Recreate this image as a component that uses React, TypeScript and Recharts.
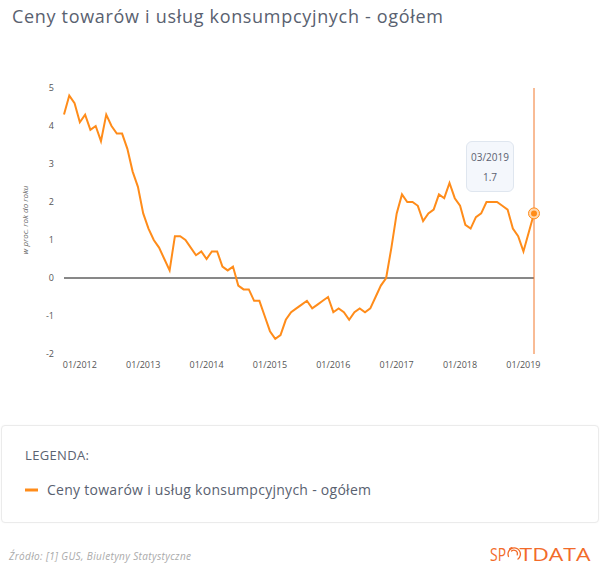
import React from 'react';
import { LineChart, Line, XAxis, YAxis, ReferenceLine, ReferenceDot, Tooltip } from 'recharts';

// Categories: monthly, from 10/2011 to 03/2019
const startYear = 2011;
const startMonth = 10;

// Series values (CPI, % y/y) per year
const values2011 = [4.3, 4.8, 4.6]; // Oct-Dec
const values2012 = [4.1, 4.3, 3.9, 4.0, 3.6, 4.3, 4.0, 3.8, 3.8, 3.4, 2.8, 2.4];
const values2013 = [1.7, 1.3, 1.0, 0.8, 0.5, 0.2, 1.1, 1.1, 1.0, 0.8, 0.6, 0.7];
const values2014 = [0.5, 0.7, 0.7, 0.3, 0.2, 0.3, -0.2, -0.3, -0.3, -0.6, -0.6, -1.0];
const values2015 = [-1.4, -1.6, -1.5, -1.1, -0.9, -0.8, -0.7, -0.6, -0.8, -0.7, -0.6, -0.5];
const values2016 = [-0.9, -0.8, -0.9, -1.1, -0.9, -0.8, -0.9, -0.8, -0.5, -0.2, 0.0, 0.8];
const values2017 = [1.7, 2.2, 2.0, 2.0, 1.9, 1.5, 1.7, 1.8, 2.2, 2.1, 2.5, 2.1];
const values2018 = [1.9, 1.4, 1.3, 1.6, 1.7, 2.0, 2.0, 2.0, 1.9, 1.8, 1.3, 1.1];
const values2019 = [0.7, 1.2, 1.7]; // Jan-Mar

const xTickLabels = ['01/2012', '01/2013', '01/2014', '01/2015', '01/2016', '01/2017', '01/2018', '01/2019'];
const yTickValues = [-2, -1, 0, 1, 2, 3, 4, 5];

const seriesName = 'Ceny towarów i usług konsumpcyjnych - ogółem';
const titleText = 'Ceny towarów i usług konsumpcyjnych - ogółem';
const yAxisLabel = 'w proc. rok do roku';
const sourceText = 'Źródło: [1] GUS, Biuletyny Statystyczne';

const allValues = [
  ...values2011, ...values2012, ...values2013, ...values2014,
  ...values2015, ...values2016, ...values2017, ...values2018, ...values2019,
];

const data = allValues.map((v, i) => {
  const m0 = startMonth - 1 + i;
  const y = startYear + Math.floor(m0 / 12);
  const m = (m0 % 12) + 1;
  const label = `${m < 10 ? '0' + m : m}/${y}`;
  return { label, value: v };
});

const last = data[data.length - 1];

const LINE_COLOR = '#ff8c1a';
const CURSOR_COLOR = '#f2792c';
const LOGO_COLOR = '#f26b2a';
const FONT = '"Open Sans", "Noto Sans", sans-serif';

const TooltipBox = (props: any) => {
  const { payload } = props;
  if (!payload || !payload.length) return null;
  const p = payload[0].payload;
  return (
    <div
      style={{
        width: 46,
        height: 49,
        background: '#f4f7fc',
        border: '1px solid #dfe6ef',
        borderRadius: 6,
        boxSizing: 'content-box',
        fontFamily: FONT,
        fontSize: 10,
        color: '#5b6170',
        textAlign: 'center',
      }}
    >
      <div style={{ lineHeight: '20px', paddingTop: 5 }}>{p.label}</div>
      <div style={{ lineHeight: '20px' }}>{p.value.toFixed(1)}</div>
    </div>
  );
};

const ActiveDotShape = (props: any) => {
  const { cx, cy } = props;
  return (
    <g>
      <circle cx={cx} cy={cy} r={5.5} fill="#ffd8b0" stroke={LINE_COLOR} strokeWidth={1} />
      <circle cx={cx} cy={cy} r={3} fill={LINE_COLOR} />
    </g>
  );
};

export default function App() {
  return (
    <div
      style={{
        position: 'absolute',
        left: 0,
        top: 0,
        width: 600,
        height: 583,
        background: '#ffffff',
        overflow: 'hidden',
      }}
    >
      {/* legend box */}
      <div
        style={{
          position: 'absolute',
          left: 1,
          top: 425,
          width: 596,
          height: 96,
          border: '1px solid #ebebeb',
          borderRadius: 4,
          boxShadow: '0 0 2px rgba(0,0,0,0.04)',
          background: '#fff',
        }}
      />
      <div style={{ position: 'absolute', left: 0, top: 0 }}>
        <LineChart
          width={600}
          height={380}
          data={data}
          margin={{ top: 88, right: 66, left: 0, bottom: 0 }}
        >
          <XAxis
            dataKey="label"
            ticks={xTickLabels}
            interval={0}
            axisLine={false}
            tickLine={false}
            height={26}
            tick={{ fontSize: 9, fill: '#555', fontFamily: FONT }}
          />
          <YAxis
            domain={[-2, 5]}
            ticks={yTickValues}
            width={64}
            axisLine={false}
            tickLine={false}
            tickMargin={4}
            tick={{ fontSize: 9, fill: '#555', fontFamily: FONT }}
          />
          <ReferenceLine y={0} stroke="#111" strokeWidth={1} />
          <ReferenceLine x={last.label} stroke={CURSOR_COLOR} strokeWidth={1} />
          <Line
            type="linear"
            dataKey="value"
            name={seriesName}
            stroke={LINE_COLOR}
            strokeWidth={2}
            dot={false}
            activeDot={false}
            isAnimationActive={false}
          />
          <ReferenceDot x={last.label} y={last.value} r={5} shape={ActiveDotShape} />
          <Tooltip
            active
            defaultIndex={data.length - 1}
            cursor={false}
            position={{ x: 466, y: 141 }}
            content={<TooltipBox />}
            isAnimationActive={false}
            wrapperStyle={{ outline: 'none' }}
          />
        </LineChart>
      </div>
      <svg
        width={600}
        height={583}
        style={{ position: 'absolute', left: 0, top: 0, pointerEvents: 'none' }}
      >
        <text x={12} y={23} fontFamily={FONT} fontSize={18} fill="#596170" textLength={431} lengthAdjust="spacing">
          {titleText}
        </text>
        <text
          x={0}
          y={0}
          transform="translate(28,220) rotate(-90)"
          textAnchor="middle"
          fontFamily={FONT}
          fontSize={8}
          fontStyle="italic"
          fill="#666"
        >
          {yAxisLabel}
        </text>
        <text x={25} y={460} fontFamily={FONT} fontSize={13} fill="#5b6372" textLength={64} lengthAdjust="spacing">
          LEGENDA:
        </text>
        <line x1={25} y1={490} x2={38} y2={490} stroke={LINE_COLOR} strokeWidth={3} />
        <text x={47} y={494.5} fontFamily={FONT} fontSize={14} fill="#596170" textLength={324} lengthAdjust="spacing">
          {seriesName}
        </text>
        <text x={9} y={560} fontFamily={FONT} fontSize={10} fontStyle="italic" fill="#aaaaaa" textLength={182} lengthAdjust="spacing">
          {sourceText}
        </text>
        {/* logo */}
        <g fill={LOGO_COLOR} fontFamily={FONT} fontSize={18}>
          <text x={490} y={560.5} textLength={16} lengthAdjust="spacingAndGlyphs">SP</text>
          <text x={519.5} y={560.5} textLength={71} lengthAdjust="spacingAndGlyphs">TDATA</text>
        </g>
        <g fill="none" stroke={LOGO_COLOR} strokeLinecap="round">
          <path d="M 508.5 556.5 A 6.2 6.2 0 1 1 518 559" strokeWidth={1.3} />
          <path d="M 511.5 551 A 3.6 3.6 0 0 1 517.2 555" strokeWidth={1.2} />
          <path d="M 509.5 549 A 6.3 6.3 0 0 1 512 547.6" strokeWidth={1.2} />
        </g>
      </svg>
    </div>
  );
}
